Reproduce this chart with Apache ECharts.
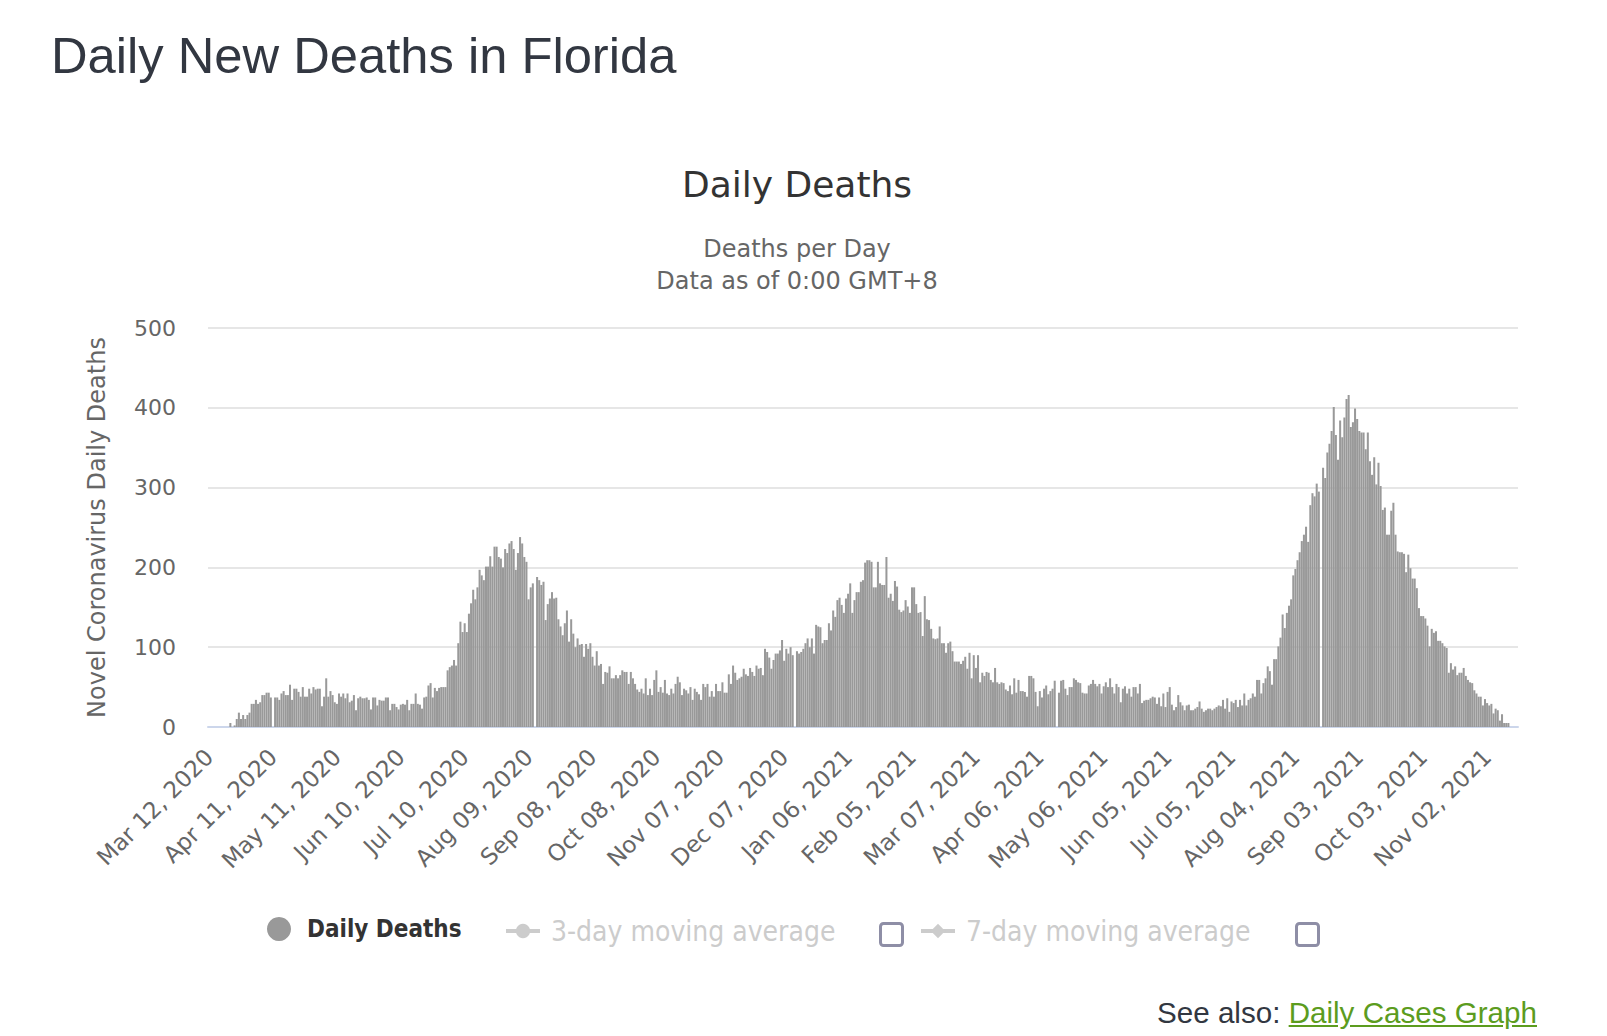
<!DOCTYPE html>
<html><head><meta charset="utf-8">
<script src="https://cdn.jsdelivr.net/npm/echarts@6/dist/echarts.min.js"></script>
<style>
html,body{margin:0;padding:0;background:#fff;width:1607px;height:1036px;overflow:hidden;}
#chart{position:absolute;left:0;top:0;width:1607px;height:1036px;}
#pageTitle{position:absolute;left:51px;top:26px;font-family:'Liberation Sans',Arial,sans-serif;font-size:50.7px;line-height:normal;color:#323741;white-space:nowrap;z-index:2}
#seeAlso{position:absolute;right:70px;top:996px;font-family:'Liberation Sans',Arial,sans-serif;font-size:29.6px;line-height:normal;color:#323741;white-space:nowrap;z-index:2}
#seeAlso a{color:#5c9c1e;text-decoration:underline;}
</style></head>
<body>
<div id="chart"></div>
<div id="pageTitle">Daily New Deaths in Florida</div>
<div id="seeAlso">See also: <a href="#">Daily Cases Graph</a></div>
<script>
// ---------- data ----------
const startDate = [2020, 2, 12];          // Mar 12, 2020 (first category)
const labelEvery = 30;                     // a tick label every 30 days
const chartTitle = 'Daily Deaths';
const subtitleLines = ['Deaths per Day', 'Data as of 0:00 GMT+8'];
const yTitle = 'Novel Coronavirus Daily Deaths';
const yTicks = [0, 100, 200, 300, 400, 500];
const legendNames = ['Daily Deaths', '3-day moving average', '7-day moving average'];

const dailyDeaths = [
0,0,0,0,0,0,0,0,0,0,5,0,2,10,18,10,15,10,15,18,29,29,34,29,31,40,40,43,43,37,
0,
37,37,34,42,45,40,40,53,34,48,
48,44,38,50,38,38,48,42,50,47,
48,48,26,38,61,38,45,40,31,29,
42,38,42,36,42,31,33,40,21,36,
38,36,36,37,34,22,37,37,27,34,
33,33,37,37,21,29,29,25,22,28,
29,28,34,21,29,29,42,29,28,23,
37,38,52,55,37,49,45,49,50,50,50,
71,75,77,84,77,105,132,119,130,119,
142,155,172,160,175,197,190,184,201,201,
214,201,226,226,213,211,200,223,218,230,
233,223,197,218,238,230,213,207,160,175,180,
0,
188,184,178,182,134,154,161,169,161,162,
135,126,115,130,146,107,135,117,100,111,
103,104,88,104,98,105,88,77,95,77,
79,54,69,68,76,61,61,65,61,65,
71,69,69,54,69,61,54,47,44,48,
42,61,40,48,40,59,71,44,50,43,
59,42,40,48,42,54,63,56,40,48,
46,42,50,34,48,44,41,34,54,50,
54,38,45,38,54,45,45,56,43,43,
66,54,77,68,59,61,63,73,66,64,
74,69,64,77,73,74,65,98,94,87,
73,84,92,92,96,109,83,98,92,100,
90,
0,
95,92,94,98,105,111,100,111,92,128,
126,125,105,109,109,130,121,146,138,159,
162,153,143,161,167,180,143,159,169,169,
182,184,
206,209,209,207,175,175,207,180,178,178,
213,162,167,158,183,176,147,144,146,159,
151,143,175,175,154,143,144,114,164,135,
134,123,111,110,111,126,105,105,93,105,
107,95,82,82,82,79,83,88,73,93,
61,90,74,90,56,68,64,69,68,59,
56,74,56,54,56,55,47,45,52,41,
61,43,59,45,45,44,38,64,64,61,
44,26,45,37,48,52,41,45,48,58,
0,
43,58,59,48,40,50,50,61,59,56,
55,43,42,42,52,54,59,54,51,54,
42,51,56,50,61,50,42,54,50,31,
48,51,42,48,38,50,50,42,54,30,
33,34,34,36,38,37,29,37,26,42,
25,44,50,28,21,25,40,31,27,21,
27,28,21,21,
23,25,32,23,19,21,23,23,21,23,
25,27,26,34,23,36,19,32,30,34,
25,34,27,42,27,34,36,42,38,59,
59,42,55,61,76,70,53,85,85,101,
112,141,124,143,152,160,190,198,209,219,
233,241,251,232,278,293,289,305,295,
0,
325,312,344,355,371,401,366,335,384,363,
388,411,416,376,382,399,386,371,369,369,
348,369,333,316,338,304,331,302,272,275,
241,241,271,281,241,220,219,219,217,194,
216,199,186,186,174,149,139,139,136,127,
101,123,118,120,108,108,105,101,99,68,
80,72,76,65,68,68,74,64,59,56,
55,46,42,38,38,27,35,30,27,29,
17,23,21,8,16,5,5,5,
0,0,0,0
];

// ---------- categories (one per day) ----------
const MONTHS = ['Jan','Feb','Mar','Apr','May','Jun','Jul','Aug','Sep','Oct','Nov','Dec'];
const categories = dailyDeaths.map((_, i) => {
  const d = new Date(Date.UTC(startDate[0], startDate[1], startDate[2] + i));
  const dd = String(d.getUTCDate()).padStart(2, '0');
  return MONTHS[d.getUTCMonth()] + ' ' + dd + ', ' + d.getUTCFullYear();
});

// ---------- chart ----------
const FONT = "'DejaVu Sans', Verdana, sans-serif";
const COND = "'DejaVu Sans Condensed', 'DejaVu Sans', sans-serif";
const chart = echarts.init(document.getElementById('chart'), null, {renderer: 'svg'});

const option = {
  animation: false,
  backgroundColor: '#ffffff',
  textStyle: {fontFamily: FONT},
  title: [
    {text: chartTitle, left: 792, top: 161, textAlign: 'center',
     textStyle: {fontSize: 36, fontWeight: 'normal', color: '#333333', fontFamily: FONT}},
    {text: subtitleLines.join('\n'), left: 792, top: 228, textAlign: 'center',
     textStyle: {fontSize: 24, lineHeight: 32, fontWeight: 'normal', color: '#666666', fontFamily: FONT}}
  ],
  grid: {left: 208, right: 89, top: 328, bottom: 309},
  xAxis: {
    type: 'category', data: categories, boundaryGap: true,
    axisLine: {lineStyle: {color: '#ccd6eb', width: 2}},
    axisTick: {show: false},
    axisLabel: {interval: labelEvery - 1, rotate: 45, margin: 26, fontSize: 23, color: '#666666', fontFamily: FONT}
  },
  yAxis: {
    type: 'value', min: yTicks[0], max: yTicks[yTicks.length - 1], interval: yTicks[1] - yTicks[0],
    name: yTitle, nameLocation: 'middle', nameGap: 99, nameRotate: 90,
    nameTextStyle: {fontSize: 24, color: '#666666', fontFamily: FONT},
    axisLine: {show: false}, axisTick: {show: false},
    axisLabel: {fontSize: 22, color: '#666666', margin: 32, fontFamily: FONT},
    splitLine: {lineStyle: {color: '#e6e6e6', width: 2}}
  },
  legend: [
    {data: [{name: legendNames[0], icon: 'circle'}], left: 262, top: 912, itemWidth: 24, itemHeight: 24,
     textStyle: {fontSize: 24, fontWeight: 'bold', color: '#333333', fontFamily: COND, padding: [0, 0, 0, 11]}},
    {data: [{name: legendNames[1]}], left: 499, top: 912, itemWidth: 34, itemHeight: 18,
     inactiveColor: '#cccccc', inactiveBorderWidth: 0, selected: {[legendNames[1]]: false},
     lineStyle: {width: 4, inactiveWidth: 4, inactiveColor: '#cccccc'},
     textStyle: {fontSize: 28, color: '#333333', fontFamily: COND, padding: [0, 0, 0, 6]}},
    {data: [{name: legendNames[2]}], left: 914, top: 912, itemWidth: 34, itemHeight: 18,
     inactiveColor: '#cccccc', inactiveBorderWidth: 0, selected: {[legendNames[2]]: false},
     lineStyle: {width: 4, inactiveWidth: 4, inactiveColor: '#cccccc'},
     textStyle: {fontSize: 28, color: '#333333', fontFamily: COND, padding: [0, 0, 0, 6]}}
  ],
  series: [
    {name: legendNames[0], type: 'bar', data: dailyDeaths, barCategoryGap: '5%',
     itemStyle: {color: '#999999'}},
    {name: legendNames[1], type: 'line', data: [], symbol: 'circle', symbolSize: 14,
     itemStyle: {color: '#999999'}, lineStyle: {width: 4}},
    {name: legendNames[2], type: 'line', data: [], symbol: 'diamond', symbolSize: 16,
     itemStyle: {color: '#999999'}, lineStyle: {width: 4}}
  ],
  graphic: [
    {type: 'rect', left: 879, top: 922, shape: {width: 22, height: 22, r: 3},
     style: {fill: '#ffffff', stroke: '#8e8ea6', lineWidth: 3}},
    {type: 'rect', left: 1295, top: 922, shape: {width: 22, height: 22, r: 3},
     style: {fill: '#ffffff', stroke: '#8e8ea6', lineWidth: 3}}
  ]
};
chart.setOption(option);
</script>
</body></html>
